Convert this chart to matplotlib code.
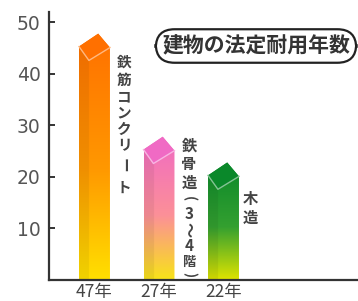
import numpy as np
import matplotlib
matplotlib.use('Agg')
import matplotlib.pyplot as plt
from matplotlib.patches import Polygon
from matplotlib.colors import to_rgb

# --- data ---
years = [47, 27, 22]
year_labels = ['47年', '27年', '22年']
yticks = [10, 20, 30, 40, 50]
title = '建物の法定耐用年数'
bar_names = ['鉄筋コンクリート', '鉄骨造（3〜4階）', '木造']
top_colors = ['#ff7000', '#f06ac4', '#0a882a']
mid_colors = ['#ff9800', '#fc9098', '#34a030']
bottom_colors = ['#ffe000', '#f8e418', '#dfe400']

JP = ['Noto Sans CJK JP', 'DejaVu Sans']
W, H = 358, 301
# characters that turn sideways in vertical writing
ROTATE = {'ー': 'ー', '〜': '〜', '（': '(', '）': ')'}

fig = plt.figure(figsize=(W / 100, H / 100), dpi=100)
ax = fig.add_axes([49 / W, 21 / H, 1 - 49 / W, (280 - 12) / H])

x = np.arange(len(years))
bw = 0.48


def gradient(top, mid, bot, n=200, m=40, split=0.32):
    top, mid, bot = (np.array(to_rgb(c)) for c in (top, mid, bot))
    t = np.linspace(0, 1, n)[:, None]  # 0 = bottom, 1 = top
    low = bot + (mid - bot) * np.clip(t / 0.45, 0, 1)
    high = mid + (top - mid) * np.clip((t - 0.45) / 0.55, 0, 1)
    col = np.where(t < 0.45, low, high)          # (n, 3)
    col = np.repeat(col[:, None, :], m, axis=1)  # (n, m, 3)
    u = np.linspace(0, 1, m)
    shade = np.where(u < split, 0.94, 1.0)
    col = col * shade[None, :, None]
    return np.clip(col, 0, 1)


for i, v in enumerate(years):
    L, R = x[i] - bw / 2, x[i] + bw / 2
    ya = v + 0.8
    yl, yr, yf = ya - 2.5, ya - 2.7, ya - 5.2
    xa, xf = L + 0.62 * bw, L + 0.32 * bw
    body = Polygon([(L, 0), (L, yl), (xa, ya), (R, yr), (R, 0)],
                   closed=True, facecolor='none', edgecolor='none')
    ax.add_patch(body)
    img = ax.imshow(gradient(top_colors[i], mid_colors[i], bottom_colors[i]),
                    extent=[L, R, 0, ya], origin='lower', aspect='auto',
                    interpolation='bilinear', zorder=2)
    img.set_clip_path(body)
    ax.add_patch(Polygon([(L, yl), (xa, ya), (R, yr), (xf, yf)], closed=True,
                         facecolor=top_colors[i], edgecolor='none', zorder=3))
    light = 0.5 * np.array(to_rgb(top_colors[i])) + 0.5
    ax.plot([L, xf, R], [yl, yf, yr], color=light, lw=1.0, zorder=4)

ax.set_xlim(-0.705, 4.085)
ax.set_ylim(0, 52.0)

for s in ['top', 'right']:
    ax.spines[s].set_visible(False)
for s in ['left', 'bottom']:
    ax.spines[s].set_color('#333333')
    ax.spines[s].set_linewidth(1.6)

ax.set_yticks(yticks)
ax.set_yticklabels([str(t) for t in yticks], fontsize=13.5, color='#555555',
                   family='DejaVu Sans')
ax.tick_params(axis='y', direction='in', length=4, width=1.4, color='#333333', pad=6)
ax.set_xticks(x)
ax.set_xticklabels(year_labels, fontsize=12.5, color='#444444', family=JP)
ax.tick_params(axis='x', length=0, pad=2.5)


def vtext(cx, centers, chars, sizes):
    for ch, cy, size in zip(chars, centers, sizes):
        rot = -90 if ch in ROTATE else 0
        fig.text(cx / W, 1 - cy / H, ROTATE.get(ch, ch), ha='center', va='center',
                 rotation=rot, fontsize=size, family=JP, fontweight='bold',
                 color='#444444')


vtext(124, [62, 80, 96, 112, 129, 145, 165, 188], bar_names[0], [10.5] * 8)
vtext(189, [146, 164, 183, 199, 214, 230, 246, 262, 275], bar_names[1],
      [11, 11, 11, 10, 11, 11, 11, 9.5, 10])
vtext(250, [199, 218], bar_names[2], [11, 11])

fig.text(256 / W, 1 - 46 / H, title, ha='center', va='center', fontsize=15,
         family=JP, fontweight='bold', color='#333333',
         bbox=dict(boxstyle='round,pad=0.3,rounding_size=0.9', fc='white',
                   ec='#222222', lw=1.6))

fig.savefig('out.png', dpi=100)
